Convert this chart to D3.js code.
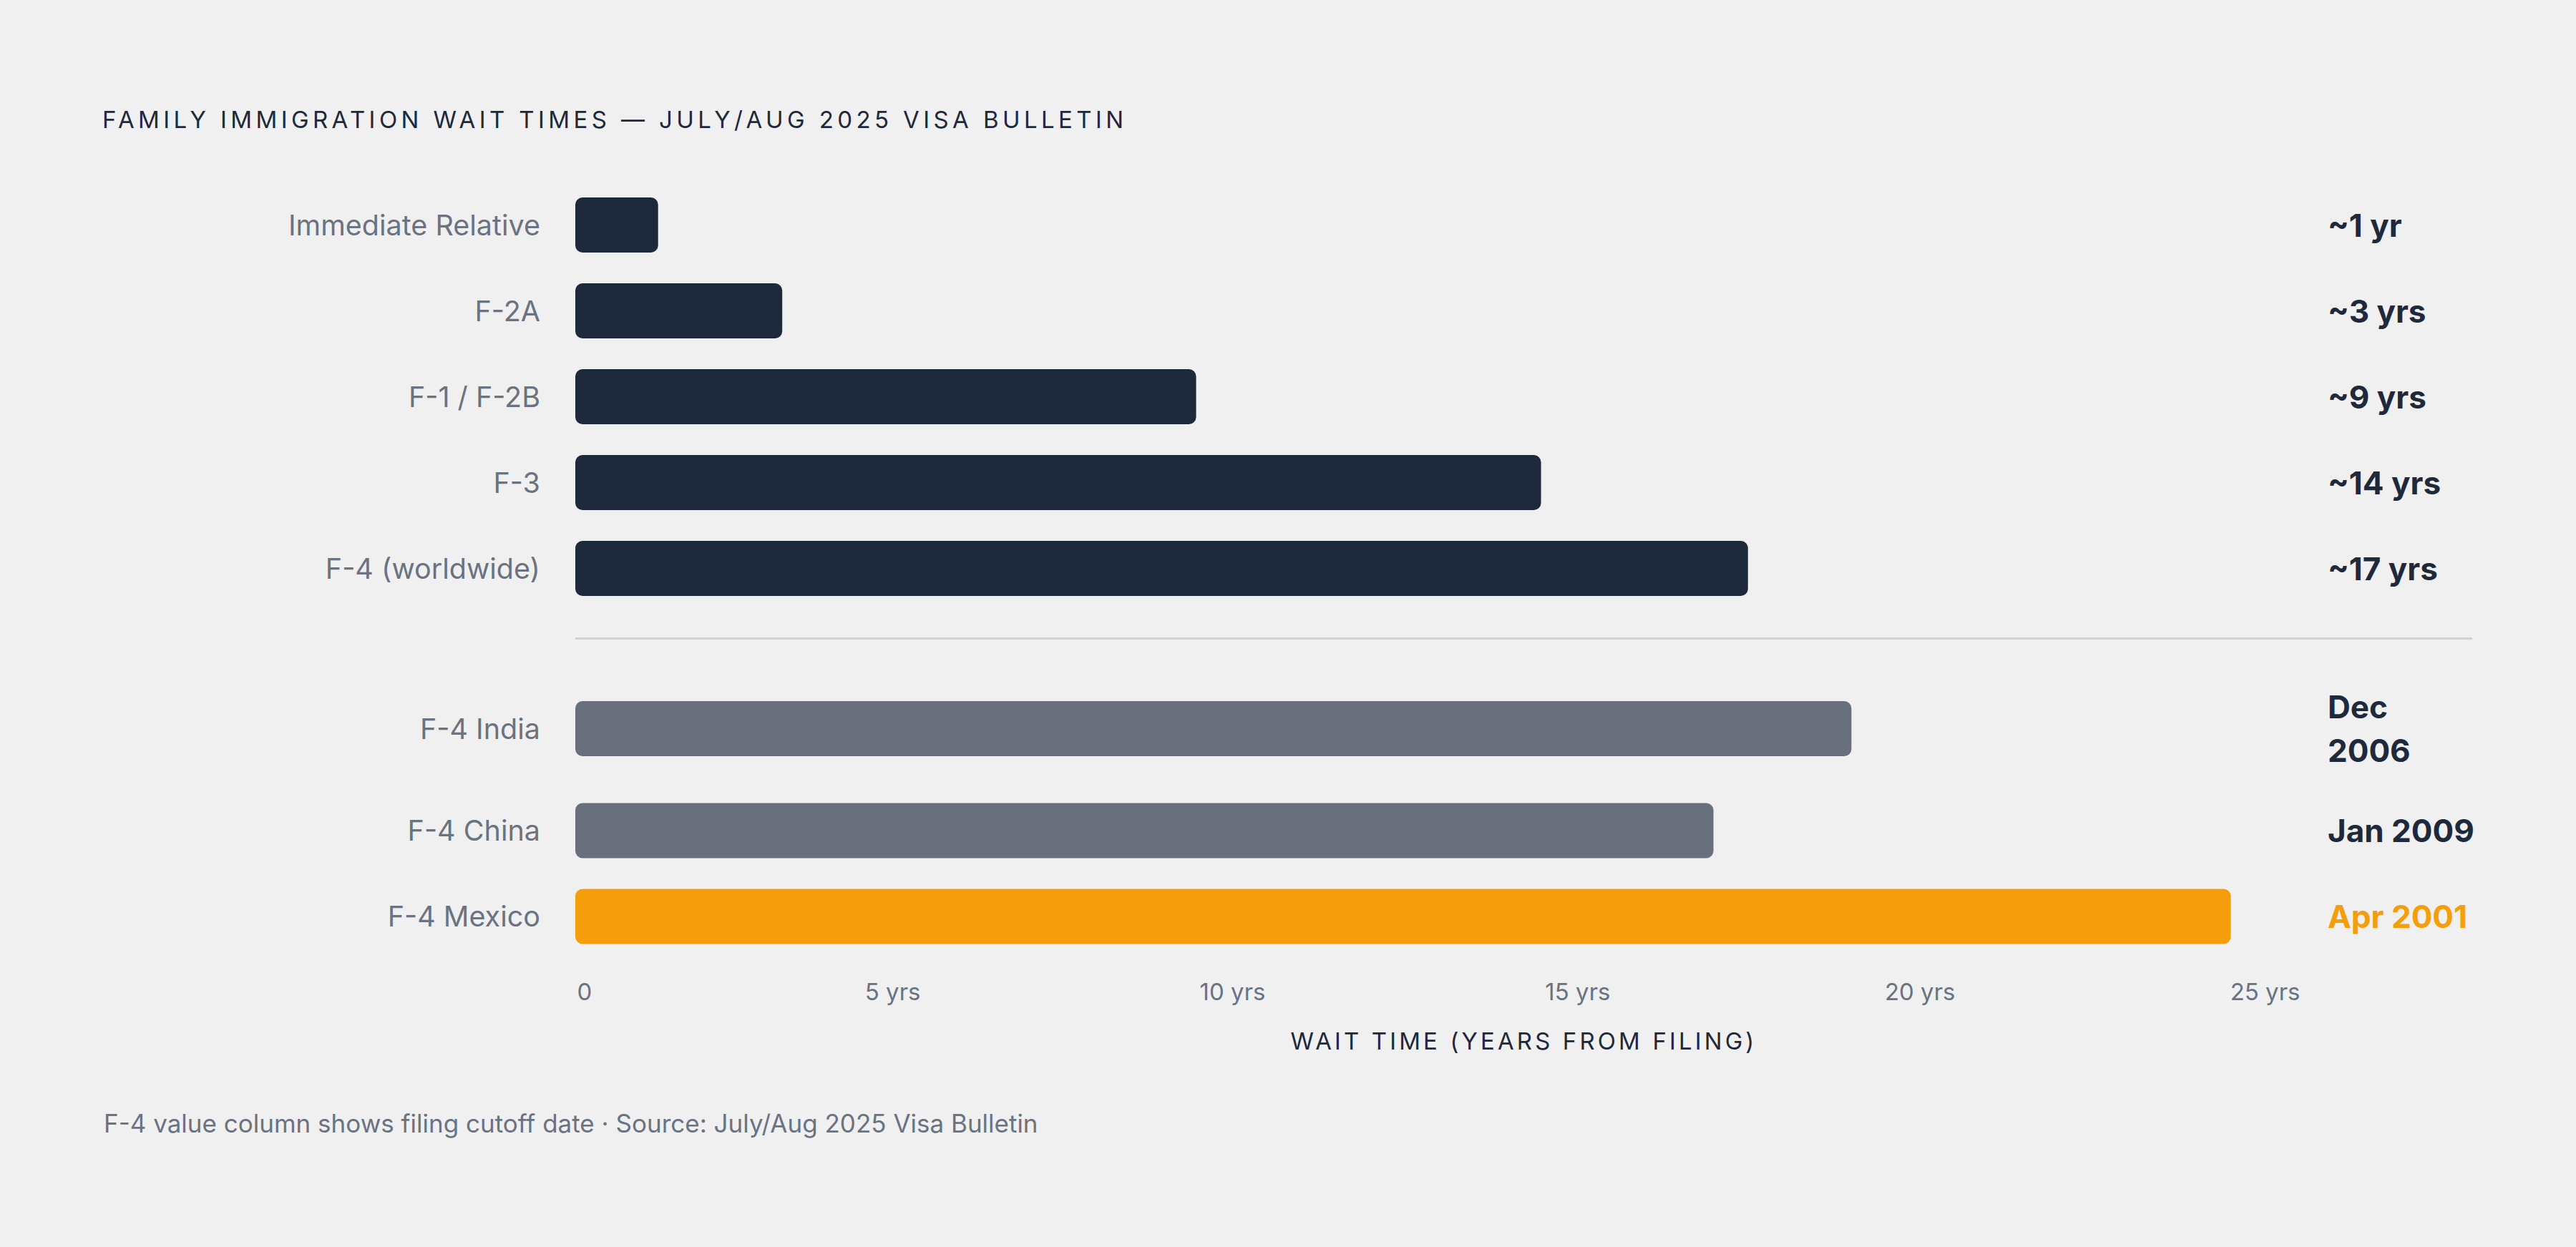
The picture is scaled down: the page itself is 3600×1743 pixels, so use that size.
<!DOCTYPE html>
<html>
<head>
<meta charset="utf-8">
<script src="https://cdn.jsdelivr.net/npm/d3@7"></script>
<style>
  body { margin: 0; background: #f0f0f0; }
  text { font-family: Inter, "DejaVu Sans", sans-serif; }
</style>
</head>
<body>
<script>
// chart values
var categories = ["Immediate Relative", "F-2A", "F-1 / F-2B", "F-3", "F-4 (worldwide)",
                  "F-4 India", "F-4 China", "F-4 Mexico"];
var waitYears = [1.2, 3, 9, 14, 17, 18.5, 16.5, 24];
var valueLabels = ["~1 yr", "~3 yrs", "~9 yrs", "~14 yrs", "~17 yrs",
                   "Dec\n2006", "Jan 2009", "Apr 2001"];
var groups = ["category", "category", "category", "category", "category",
              "country", "country", "country"];
var highlight = "F-4 Mexico";
var tickYears = [0, 5, 10, 15, 20, 25];

var width = 3600, height = 1743;

var svg = d3.select("body")
    .append("svg")
    .attr("width", width)
    .attr("height", height);

svg.append("rect")
    .attr("width", width)
    .attr("height", height)
    .attr("fill", "#f0f0f0");

var x = d3.scaleLinear()
    .domain([0, 25])
    .range([804, 3214]);

var barH = 77, rowGap = 43, groupGap = 124.5, lineH = 61;
var valueX = 3253, labelX = 755;

// stack rows, a row grows when its value label wraps
var rows = categories.map(function (c, i) {
    return { name: c, years: waitYears[i], lines: valueLabels[i].split("\n"), group: groups[i] };
});
var cursor = 276, dividerY = null;
rows.forEach(function (r, i) {
    if (i > 0) {
        if (r.group !== rows[i - 1].group) {
            dividerY = cursor + 59.5;
            cursor += groupGap;
        } else {
            cursor += rowGap;
        }
    }
    var h = Math.max(barH, r.lines.length * lineH);
    r.cy = cursor + h / 2;
    cursor += h;
});

function barColor(d) {
    if (d.name === highlight) return "#f59e0b";
    return d.group === "category" ? "#1e293b" : "#696f7c";
}

// title
svg.append("text")
    .attr("x", 143)
    .attr("y", 179)
    .attr("fill", "#1e293b")
    .attr("font-size", 33)
    .attr("letter-spacing", 5.4)
    .text("FAMILY IMMIGRATION WAIT TIMES \u2014 JULY/AUG 2025 VISA BULLETIN");

// bars
svg.selectAll("rect.bar")
    .data(rows)
    .enter().append("rect")
    .attr("class", "bar")
    .attr("x", x(0))
    .attr("y", function (d) { return d.cy - barH / 2; })
    .attr("width", function (d) { return x(d.years) - x(0); })
    .attr("height", barH)
    .attr("rx", 10)
    .attr("fill", barColor);

// category labels
svg.selectAll("text.cat")
    .data(rows)
    .enter().append("text")
    .attr("class", "cat")
    .attr("x", labelX)
    .attr("y", function (d) { return d.cy + 14; })
    .attr("text-anchor", "end")
    .attr("fill", "#6b7280")
    .attr("font-size", 39.5)
    .text(function (d) { return d.name; });

// value column
var vals = svg.selectAll("text.val")
    .data(rows)
    .enter().append("text")
    .attr("class", "val")
    .attr("x", valueX)
    .attr("font-size", 44)
    .attr("font-weight", 700)
    .attr("fill", function (d) { return d.name === highlight ? "#f59e0b" : "#1e293b"; });

vals.each(function (d) {
    var t = d3.select(this);
    d.lines.forEach(function (line, k) {
        t.append("tspan")
            .attr("x", valueX)
            .attr("y", d.cy + (k - (d.lines.length - 1) / 2) * lineH + 16)
            .text(line);
    });
});

// divider between category and country rows
svg.append("line")
    .attr("x1", x(0))
    .attr("x2", 3455)
    .attr("y1", dividerY)
    .attr("y2", dividerY)
    .attr("stroke", "#cfd2d7")
    .attr("stroke-width", 3);

// x axis
var axis = svg.append("g")
    .attr("transform", "translate(0,1340)")
    .call(d3.axisBottom(x)
        .tickValues(tickYears)
        .tickSize(0)
        .tickPadding(0)
        .tickFormat(function (d) { return d === 0 ? "0" : d + " yrs"; }));
axis.select(".domain").remove();
axis.selectAll("text")
    .attr("font-family", "Inter, sans-serif")
    .attr("font-size", 33)
    .attr("fill", "#6b7280")
    .attr("dy", "1.77em")
    .attr("text-anchor", function (d) { return d === 0 ? "start" : "end"; })
    .attr("x", function (d) { return d === 0 ? 2 : 0; });

svg.append("text")
    .attr("x", (x(0) + 3455) / 2)
    .attr("y", 1467)
    .attr("text-anchor", "middle")
    .attr("fill", "#1e293b")
    .attr("font-size", 33)
    .attr("letter-spacing", 4.1)
    .text("WAIT TIME (YEARS FROM FILING)");

// footnote
svg.append("text")
    .attr("x", 145)
    .attr("y", 1583)
    .attr("fill", "#6b7280")
    .attr("font-size", 35)
    .text("F-4 value column shows filing cutoff date \u00b7 Source: July/Aug 2025 Visa Bulletin");
</script>
</body>
</html>
